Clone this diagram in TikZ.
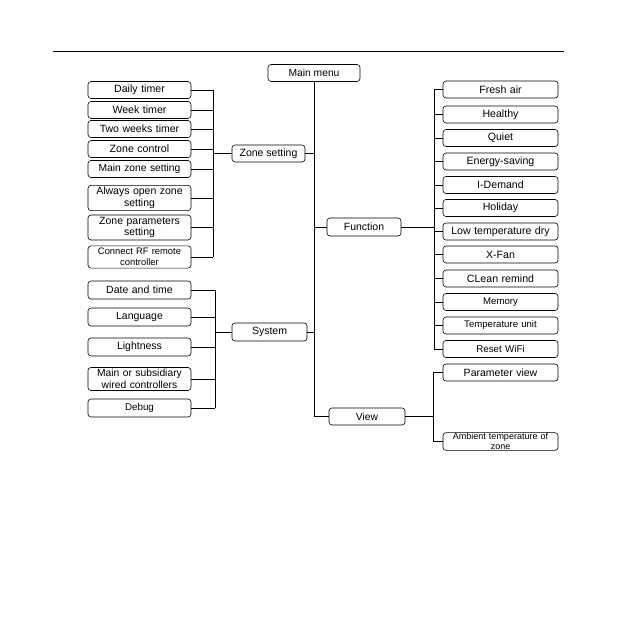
\documentclass[tikz,border=0pt]{standalone}
\usepackage{fontspec}
\setmainfont{Liberation Sans}
\newcommand{\leftx}{139.5}
\newcommand{\rightx}{500.5}
\newcommand{\fs}[1]{\fontsize{#1}{11.5}\selectfont}

\begin{document}
\begin{tikzpicture}[x=1pt,y=-1pt,
    menubox/.style={draw,semithick,rounded corners=3pt,inner xsep=1pt,
        inner ysep=2pt,minimum height=17pt,align=center},
    leftbox/.style={menubox,minimum width=103pt,text width=100pt},
    rightbox/.style={menubox,minimum width=115pt,text width=112pt},
    branch/.style={semithick}]
\useasboundingbox (0,0) rectangle (617,617);

% top rule
\draw[semithick] (53,51) -- (564,51);

% first level
\node[menubox,minimum width=92pt,font=\fs{10.3}] (mainmenu) at (314,73) {Main menu};
\node[menubox,minimum width=73pt,font=\fs{10.5}] (zone) at (268.5,153.5) {Zone setting};
\node[menubox,minimum width=75pt,minimum height=18pt,font=\fs{10.5}] (system) at (269.5,332) {System};
\node[menubox,minimum width=74pt,minimum height=18pt,font=\fs{10.5}] (function) at (364,227) {Function};
\node[menubox,minimum width=76pt,font=\fs{10.3}] (view) at (367,416.5) {View};

% bus coordinates
\coordinate (zbus) at (213,0);
\coordinate (sbus) at (215,0);
\coordinate (fbus) at (434,0);
\coordinate (vbus) at (433,0);

% zone setting items
\foreach \name/\ypos/\size/\label in {daily/90/10.6/Daily timer,
    week/110/10.6/Week timer, twoweeks/129/10.5/Two weeks timer,
    zonectrl/149/10.6/Zone control, mainzone/169/10.3/Main zone setting,
    alwaysopen/198/10.5/{Always open zone\\setting},
    zoneparam/227.5/10.5/{Zone parameters\\setting},
    rf/257/9.4/{Connect RF remote\\controller}}
{
    \node[leftbox,font=\fs{\size}] (\name) at (\leftx,\ypos) {\label};
    \draw[branch] (\name.east) -- (\name.east -| zbus);
}
\draw[branch] (zbus |- daily.east) -- (zbus |- rf.east);
\draw[branch] (zone.west) -- (zone.west -| zbus);

% system items
\foreach \name/\ypos/\size/\label in {datetime/290/10.5/Date and time,
    language/317/10.5/Language, lightness/347/10.5/Lightness,
    mainsub/379/10.3/{Main or subsidiary\\wired controllers},
    debug/408/9.8/Debug}
{
    \node[leftbox,minimum height=18pt,font=\fs{\size}] (\name) at (\leftx,\ypos) {\label};
    \draw[branch] (\name.east) -- (\name.east -| sbus);
}
\draw[branch] (sbus |- datetime.east) -- (sbus |- debug.east);
\draw[branch] (system.west) -- (system.west -| sbus);

% function items
\foreach \name/\ypos/\size/\label in {fresh/89.5/10.6/Fresh air,
    healthy/114.5/10.6/Healthy, quiet/138/10.6/Quiet,
    energy/161.5/10.6/Energy-saving, idemand/185/10.6/I-Demand,
    holiday/208/10.6/Holiday, lowdry/231.5/10.6/Low temperature dry,
    xfan/254.5/10.6/X-Fan, clean/278.5/10.6/CLean remind,
    memory/302/9.6/Memory, tempunit/325.5/9.6/Temperature unit,
    reset/349/9.8/Reset WiFi}
{
    \node[rightbox,font=\fs{\size}] (\name) at (\rightx,\ypos) {\label};
    \draw[branch] (\name.west) -- (\name.west -| fbus);
}
\draw[branch] (fbus |- fresh.west) -- (fbus |- reset.west);
\draw[branch] (function.east) -- (function.east -| fbus);

% view items
\node[rightbox,font=\fs{10.5}] (paramview) at (\rightx,372.5) {Parameter view};
\node[rightbox,minimum height=16pt,inner ysep=0.5pt,
    font=\fontsize{9}{10}\selectfont] (ambient) at (\rightx,441.5)
    {Ambient temperature of\\zone};
\draw[branch] (paramview.west) -- (paramview.west -| vbus)
    -- (vbus |- ambient.west) -- (ambient.west);
\draw[branch] (view.east) -- (view.east -| vbus);

% main trunk
\draw[thick] (mainmenu.south) -- (mainmenu.south |- view.west) -- (view.west);
\draw[branch] (zone.east) -- (zone.east -| mainmenu.south);
\draw[branch] (system.east) -- (system.east -| mainmenu.south);
\draw[branch] (function.west) -- (function.west -| mainmenu.south);

\end{tikzpicture}
\end{document}
